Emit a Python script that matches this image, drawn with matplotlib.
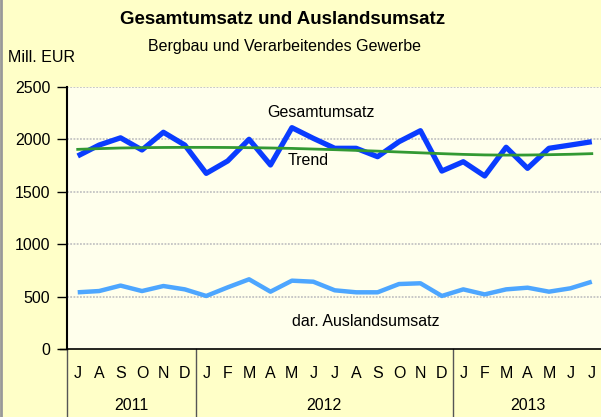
import matplotlib
matplotlib.use("Agg")
import matplotlib.pyplot as plt
import matplotlib.transforms as mtransforms

plt.rcParams["font.family"] = ["Liberation Sans", "DejaVu Sans"]

# Monthly values, July 2011 - July 2013 (Mill. EUR)
months = ["J", "A", "S", "O", "N", "D",
          "J", "F", "M", "A", "M", "J", "J", "A", "S", "O", "N", "D",
          "J", "F", "M", "A", "M", "J", "J"]
years = ["2011", "2012", "2013"]
year_centers = [2.5, 11.5, 21.0]
gesamt = [1842, 1946, 2015, 1899, 2068, 1946, 1676, 1794, 2001, 1756, 2112, 2010,
          1915, 1915, 1835, 1978, 2083, 1698, 1787, 1651, 1925, 1724, 1915, 1946, 1978]
trend = [1905, 1912, 1918, 1921, 1923, 1924, 1924, 1923, 1921, 1918, 1914, 1908,
         1902, 1895, 1888, 1880, 1872, 1864, 1857, 1852, 1850, 1851, 1854, 1858, 1864]
ausland = [541, 553, 605, 553, 601, 569, 506, 588, 665, 547, 652, 642,
           560, 541, 541, 620, 627, 506, 569, 521, 569, 585, 547, 579, 642]

W, H = 601, 417
FS = 11.5
fig = plt.figure(figsize=(W / 100, H / 100), dpi=100, facecolor="#FFFFC8")
ax = fig.add_axes([67 / W, 68 / H, 535.5 / W, 262 / H])
ax.set_facecolor("#FFFFEC")

x = list(range(len(months)))
ax.plot(x, ausland, color="#4DA6FF", lw=3.2, solid_capstyle="butt", zorder=3)
ax.plot(x, gesamt, color="#0A3CFF", lw=3.8, solid_capstyle="butt", zorder=4)
ax.plot(x, trend, color="#339933", lw=2.0, zorder=5)

ax.set_xlim(-0.5, 24.5)
ax.set_ylim(0, 2500)
ax.set_yticks([0, 500, 1000, 1500, 2000, 2500])
ax.tick_params(axis="y", direction="out", length=7, width=1, labelsize=FS, pad=5)
ax.set_xticks([])
for v in [500, 1000, 1500, 2000, 2500]:
    ax.axhline(v, color="#C4C4C4", lw=1.3, ls=(0, (1, 0.8)), zorder=1)

for s in ["top", "right"]:
    ax.spines[s].set_visible(False)
ax.spines["left"].set_linewidth(1.5)
ax.spines["bottom"].set_linewidth(1.2)

# category axis labels and year separators
trans = mtransforms.blended_transform_factory(ax.transData, ax.transAxes)
for i, m in enumerate(months):
    ax.text(i, -24 / 262, m, transform=trans, ha="center", va="center", fontsize=FS)
for c, yr in zip(year_centers, years):
    ax.text(c, -57 / 262, yr, transform=trans, ha="center", va="center", fontsize=FS)
for sx in [-0.5, 5.5, 17.5]:
    ax.plot([sx, sx], [0, -70 / 262], transform=trans, color="#555555", lw=1, clip_on=False)
ax.plot([-0.5, -0.5 - 7 / 21.42], [0, 0], transform=trans, color="black", lw=1, clip_on=False)

# series labels
ax.text(11.35, 2261, "Gesamtumsatz", fontsize=FS, ha="center", va="center")
ax.text(9.82, 1803, "Trend", fontsize=FS, ha="left", va="center")
ax.text(10.0, 258, "dar. Auslandsumsatz", fontsize=FS, ha="left", va="center")

fig.text(283 / W, 1 - 20 / H, "Gesamtumsatz und Auslandsumsatz", fontsize=13.5,
         fontweight="bold", ha="center", va="center")
fig.text(285 / W, 1 - 47 / H, "Bergbau und Verarbeitendes Gewerbe", fontsize=FS,
         ha="center", va="center")
fig.text(8 / W, 1 - 57 / H, "Mill. EUR", fontsize=FS, ha="left", va="center")

# thin gray frame on the left edge
fig.add_artist(plt.Line2D([1 / W, 1 / W], [0, 1], color="#999999", lw=2,
                          transform=fig.transFigure))

fig.savefig("out.png", dpi=100, facecolor=fig.get_facecolor())
